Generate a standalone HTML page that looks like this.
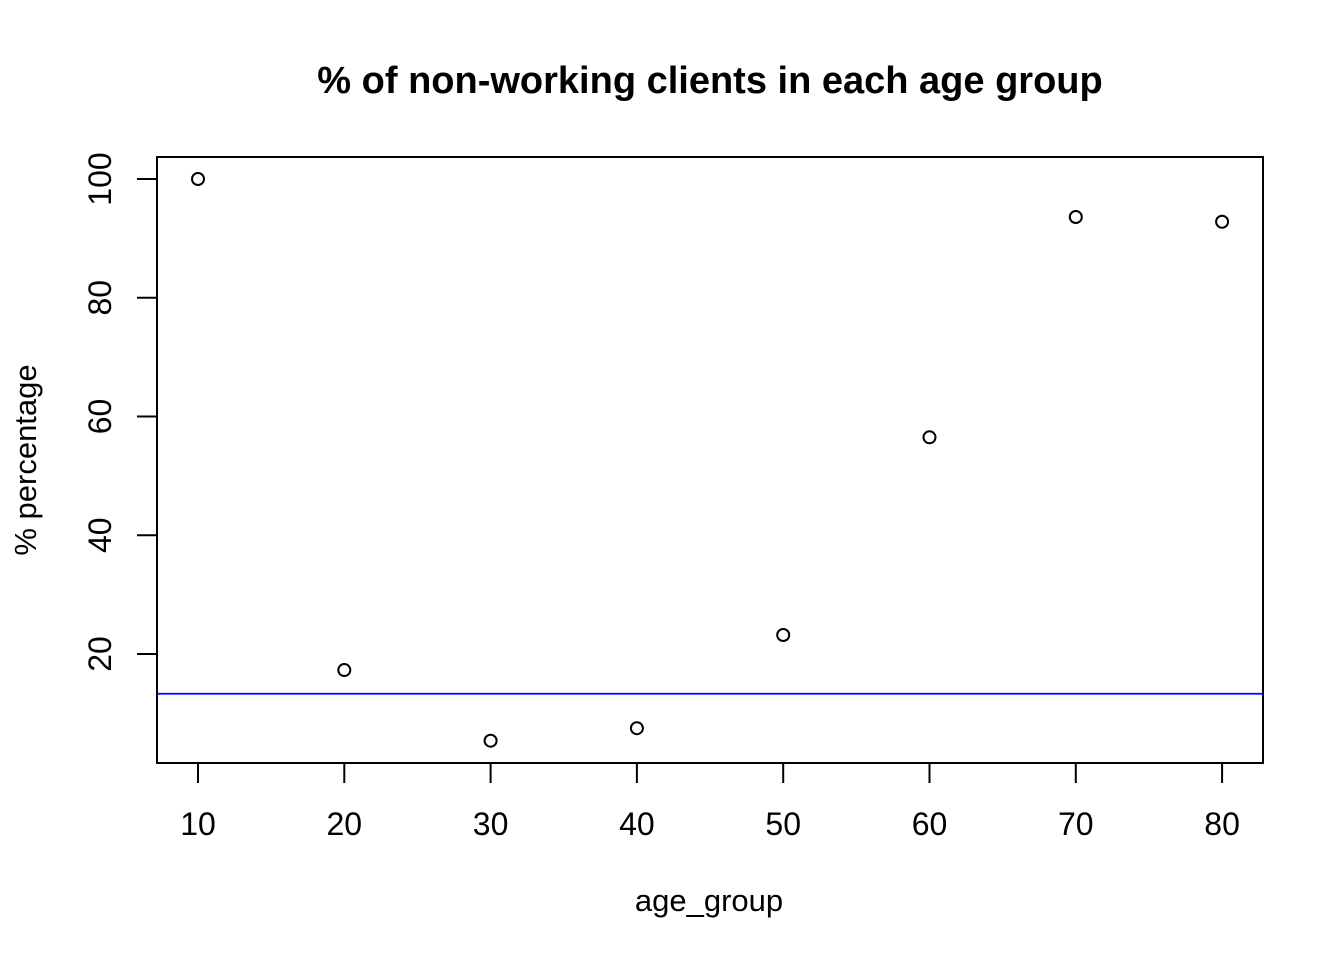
<!DOCTYPE html>
<html><head><meta charset="utf-8"><style>
html,body{margin:0;padding:0;background:#fff;}
svg{display:block;font-family:"Liberation Sans",Arial,sans-serif;}
</style></head><body>
<svg id="chart" width="1344" height="960" viewBox="0 0 1344 960">
<text x="710" y="93" text-anchor="middle" font-size="38" font-weight="bold">% of non-working clients in each age group</text>
<rect x="157" y="157" width="1106" height="606" fill="none" stroke="#000" stroke-width="2"/>
<g id="xaxis"></g>
<g id="yaxis"></g>
<g id="marks"></g>
<text x="709" y="911" text-anchor="middle" font-size="31">age_group</text>
<text transform="translate(36,460) rotate(-90)" text-anchor="middle" font-size="31">% percentage</text>
</svg>
<script>
const categories = [10, 20, 30, 40, 50, 60, 70, 80];
const percentages = [100, 17.3, 5.4, 7.5, 23.2, 56.5, 93.6, 92.8];
const referenceLine = [13.3];
const xTicks = [10, 20, 30, 40, 50, 60, 70, 80];
const yTicks = [20, 40, 60, 80, 100];

const NS = "http://www.w3.org/2000/svg";
function x(v){ return 198 + (v - 10) * 14.63; }
function y(v){ return 772.75 - v * 5.9375; }
function mk(tag, attrs, parent){
  const e = document.createElementNS(NS, tag);
  for (const k in attrs) e.setAttribute(k, attrs[k]);
  parent.appendChild(e); return e;
}
const xa = document.getElementById('xaxis');
xTicks.forEach(t => {
  const l = mk('line', {x1:x(t), x2:x(t), y1:763, y2:783, stroke:'#000', 'stroke-width':2}, xa);
  
  
  const tx = mk('text', {x:x(t), y:835, 'text-anchor':'middle', 'font-size':32}, xa);
  tx.textContent = t;
  
  
});
const ya = document.getElementById('yaxis');
yTicks.forEach(t => {
  const l = mk('line', {x1:137, x2:157, y1:y(t), y2:y(t), stroke:'#000', 'stroke-width':2}, ya);
  
  
  const tx = mk('text', {x:0, y:0, transform:`translate(111,${y(t)}) rotate(-90)`, 'text-anchor':'middle', 'font-size':32}, ya);
  tx.textContent = t;
  
  
});
const m = document.getElementById('marks');
referenceLine.forEach(v => {
  const l = mk('line', {x1:157, x2:1263, y1:y(v), y2:y(v), stroke:'#0000ff', 'stroke-width':1.8}, m);
  
  
});
categories.forEach((c, i) => {
  const p = mk('circle', {cx:x(c), cy:y(percentages[i]), r:6, fill:'none', stroke:'#000', 'stroke-width':2}, m);
  
  
});
</script>
</body></html>
